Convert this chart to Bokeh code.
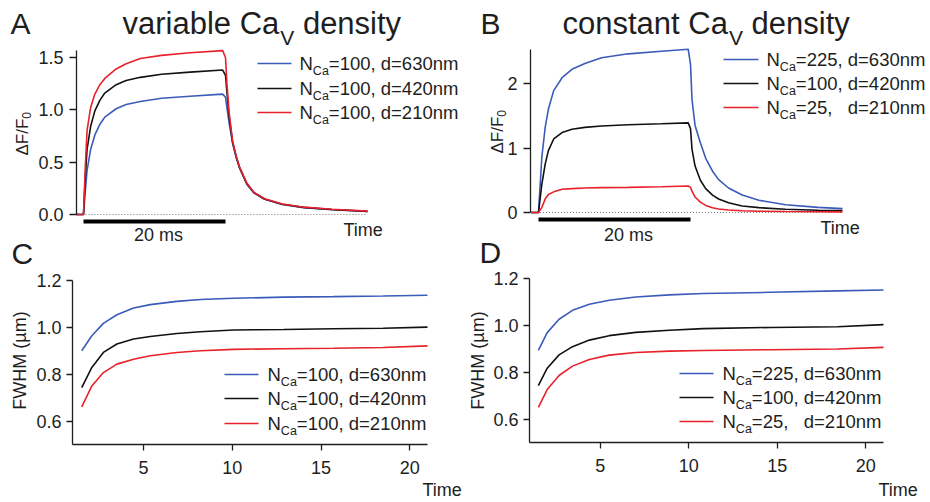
import math
from bokeh.plotting import figure
from bokeh.models import Range1d, FixedTicker, Label, LinearAxis
from bokeh.layouts import column, row
from bokeh.embed import file_html
from bokeh.resources import INLINE

# ---------------- data ----------------
# Panel A: variable Ca_V density (dF/F0 vs time in ms)
a_time = [-1, 0, 0.25, 0.5, 1.0, 1.6, 2.3, 3.0, 4.6, 6.0, 8.0, 11.0, 15.0, 19.6,
          20.0, 20.2, 20.5, 21.0, 21.5, 22.0, 23.0, 24.0, 25.5, 28.0, 31.0, 35.0, 40.0]
a_630 = [0, 0, 0.22, 0.42, 0.62, 0.76, 0.86, 0.93, 1.01, 1.05, 1.08, 1.11, 1.13, 1.15,
         1.12, 1.02, 0.88, 0.68, 0.545, 0.44, 0.29, 0.205, 0.145, 0.095, 0.066, 0.046, 0.028]
a_420 = [0, 0, 0.35, 0.62, 0.84, 0.99, 1.09, 1.16, 1.24, 1.28, 1.31, 1.34, 1.36, 1.38,
         1.33, 1.17, 0.94, 0.69, 0.555, 0.445, 0.295, 0.21, 0.148, 0.098, 0.068, 0.048, 0.030]
a_210 = [0, 0, 0.45, 0.80, 1.02, 1.15, 1.24, 1.30, 1.39, 1.44, 1.49, 1.52, 1.545, 1.565,
         1.50, 1.25, 0.98, 0.70, 0.56, 0.45, 0.30, 0.21, 0.15, 0.10, 0.07, 0.05, 0.032]

# Panel B: constant Ca_V density
b_time = [-1, 0, 0.44, 0.88, 1.3, 2.0, 3.1, 4.4, 6.1, 8.3, 11.8, 16.2, 19.7,
          20.0, 20.2, 20.6, 21.3, 22.0, 22.9, 23.7, 25.0, 26.8, 29.0, 32.5, 36.8, 40.0]
b_630 = [0, 0, 0.86, 1.32, 1.60, 1.89, 2.09, 2.22, 2.31, 2.40, 2.46, 2.50, 2.53,
         2.30, 1.75, 1.35, 1.08, 0.84, 0.64, 0.51, 0.38, 0.27, 0.19, 0.12, 0.08, 0.06]
b_420 = [0, 0, 0.44, 0.75, 0.96, 1.14, 1.24, 1.29, 1.32, 1.34, 1.36, 1.375, 1.39,
         1.30, 0.98, 0.72, 0.50, 0.37, 0.27, 0.21, 0.15, 0.10, 0.075, 0.05, 0.035, 0.03]
b_210 = [0, 0, 0.08, 0.21, 0.28, 0.32, 0.36, 0.37, 0.38, 0.385, 0.39, 0.40, 0.41,
         0.39, 0.33, 0.24, 0.16, 0.11, 0.075, 0.055, 0.038, 0.027, 0.02, 0.015, 0.012, 0.01]

zero_time = [-1, 40]
zero_val = [0, 0]
scale_bar_ms = [0, 20]

# Panel C: FWHM (um) vs time, variable density
c_time = [1.52, 2.09, 2.74, 3.5, 4.44, 5.38, 6.88, 8.2, 10.07, 12.9, 15.7, 18.5, 21.0]
c_630 = [0.90, 0.964, 1.017, 1.054, 1.083, 1.097, 1.111, 1.119, 1.124, 1.129, 1.131, 1.134, 1.137]
c_420 = [0.743, 0.829, 0.893, 0.929, 0.95, 0.961, 0.974, 0.981, 0.989, 0.991, 0.994, 0.996, 1.001]
c_210 = [0.661, 0.75, 0.807, 0.843, 0.864, 0.879, 0.893, 0.90, 0.906, 0.909, 0.911, 0.914, 0.921]

# Panel D: FWHM (um) vs time, constant density
d_time = [1.5, 2.0, 2.67, 3.43, 4.38, 5.5, 7.0, 8.9, 10.8, 14.6, 18.4, 21.0]
d_630 = [0.893, 0.969, 1.026, 1.064, 1.09, 1.107, 1.121, 1.13, 1.136, 1.141, 1.147, 1.151]
d_420 = [0.743, 0.817, 0.874, 0.909, 0.937, 0.956, 0.97, 0.979, 0.986, 0.991, 0.994, 1.003]
d_210 = [0.65, 0.726, 0.786, 0.826, 0.854, 0.873, 0.884, 0.89, 0.893, 0.896, 0.899, 0.906]

# ticks
a_yticks = [0, 0.5, 1.0, 1.5]
a_ylabels = ["0.0", "0.5", "1.0", "1.5"]
b_yticks = [0, 1, 2]
b_ylabels = ["0", "1", "2"]
fw_yticks = [0.6, 0.8, 1.0, 1.2]
fw_ylabels = ["0.6", "0.8", "1.0", "1.2"]
fw_xticks = [5, 10, 15, 20]
fw_xlabels = ["5", "10", "15", "20"]

# legend entries
var_n = ["100", "100", "100"]
const_n = ["225", "100", "25"]
dist = ["630", "420", "210"]

# ---------------- style ----------------
BLUE = "#3a5bb8"
BLACK = "#111111"
RED = "#e8212b"
COLORS = [BLUE, BLACK, RED]
INK = "#1e1e1e"
FONT = "Liberation Sans"
BASE_K = 0.32  # compensation: rendered alphabetic baseline sits ~0.32em low

WID = {' ': 278, ',': 278, '.': 278, '/': 278, '=': 584, '(': 333, ')': 333,
       'Δ': 668, 'a': 556, 'b': 556, 'c': 500, 'd': 556, 'e': 556, 'i': 222,
       'l': 222, 'm': 833, 'n': 556, 'o': 556, 'r': 333, 's': 500, 't': 278,
       'v': 500, 'y': 500, 'C': 722, 'F': 611, 'N': 722, 'V': 667}


def tw(s, size):
    return sum(WID.get(ch, 556) for ch in s) / 1000.0 * size


class Geo:
    """Figure box in page pixels; linear map page-px -> data from two anchors per axis."""

    def __init__(self, fig_x, fig_y, w, h, xpx, xval, ypx, yval):
        self.fig_x, self.fig_y, self.w, self.h = fig_x, fig_y, w, h
        self.xpx, self.xval, self.ypx, self.yval = xpx, xval, ypx, yval
        self.xr = (self.dx(fig_x), self.dx(fig_x + w))
        self.yr = (self.dy(fig_y + h), self.dy(fig_y))

    def dx(self, px):
        (p0, p1), (v0, v1) = self.xpx, self.xval
        return v0 + (px - p0) / (p1 - p0) * (v1 - v0)

    def dy(self, py):
        (p0, p1), (v0, v1) = self.ypx, self.yval
        return v0 + (py - p0) / (p1 - p0) * (v1 - v0)


def make_fig(g):
    p = figure(width=g.w, height=g.h,
               x_range=Range1d(*g.xr), y_range=Range1d(*g.yr),
               output_backend="svg", toolbar_location=None,
               x_axis_type=None, y_axis_type=None,
               min_border_left=0, min_border_right=0,
               min_border_top=0, min_border_bottom=0)
    p.outline_line_color = None
    p.background_fill_color = "white"
    p.border_fill_color = "white"
    return p


def add_axis(p, side, loc, bounds, ticks, labels, tick_out, standoff):
    ax = LinearAxis(fixed_location=loc, bounds=bounds)
    ax.ticker = FixedTicker(ticks=ticks)
    ax.major_label_overrides = {t: l for t, l in zip(ticks, labels)}
    ax.axis_line_color = INK
    ax.axis_line_width = 1.3
    ax.major_tick_line_color = INK
    ax.major_tick_line_width = 1.3
    ax.major_tick_in = 0
    ax.major_tick_out = tick_out
    ax.minor_tick_line_color = None
    ax.major_label_standoff = standoff
    ax.major_label_text_font = FONT
    ax.major_label_text_font_size = "18px"
    ax.major_label_text_color = INK
    p.add_layout(ax, side)


def txt(p, g, px, py, s, size, align="left", angle=0.0):
    px = px - BASE_K * size * math.sin(angle)
    py = py - BASE_K * size * math.cos(angle)
    p.add_layout(Label(x=g.dx(px), y=g.dy(py), text=s, text_font=FONT,
                       text_font_size=f"{size}px", text_align=align,
                       text_baseline="alphabetic", angle=angle, text_color=INK))


def title(p, g, x0, base, word):
    main = word + " Ca"
    txt(p, g, x0, base, main, 31)
    x = x0 + tw(main, 31) + 1
    txt(p, g, x, base + 11, "V", 21)
    x += tw("V", 21) + tw(" ", 31)
    txt(p, g, x, base, "density", 31)


def legend(p, g, lx0, lx1, nx, ys, ns, ds):
    for y, c, n, d in zip(ys, COLORS, ns, ds):
        p.line([g.dx(lx0), g.dx(lx1)], [g.dy(y), g.dy(y)], line_color=c, line_width=1.6)
        b = y + 6
        txt(p, g, nx, b, "N", 18.5)
        x = nx + tw("N", 18.5)
        txt(p, g, x, b + 5, "Ca", 12.5)
        x += tw("Ca", 12.5)
        txt(p, g, x, b, "=" + n + ",", 18.5)
        xd = x + tw("=100, ", 18.5)
        txt(p, g, xd, b, "d=" + d + "nm", 18.5)


def rot_label_sub(p, g, bx, y0, main, sub, size):
    txt(p, g, bx, y0, main, size, angle=math.pi / 2)
    txt(p, g, bx + 3, y0 - tw(main, size), sub, 12, angle=math.pi / 2)


LEFT_TOP_H = 270    # split between A and C (left column)
RIGHT_TOP_H = 268   # split between B and D (right column)

# ---------------- Panel A (also carries the "C" letter) ----------------
ga = Geo(0, 0, 470, LEFT_TOP_H, (83, 225), (0, 20), (214, 109.3), (0, 1))
pA = make_fig(ga)
add_axis(pA, "left", ga.dx(76), (0, 1.57), a_yticks, a_ylabels, 7, 6)
pA.line(zero_time, zero_val, line_color="#777777", line_width=1, line_dash="1 2")
pA.line(scale_bar_ms, [ga.dy(221)] * 2, line_color="black", line_width=4)
for ys, c in zip([a_630, a_420, a_210], COLORS):
    pA.line(a_time, ys, line_color=c, line_width=1.6)
txt(pA, ga, 10, 33, "A", 30)
title(pA, ga, 122, 33, "variable")
legend(pA, ga, 257, 291, 299, [63, 88, 112], var_n, dist)
rot_label_sub(pA, ga, 27, 155, "ΔF/F", "0", 17)
txt(pA, ga, 158, 240.5, "20 ms", 18, align="center")
txt(pA, ga, 343, 235, "Time", 18)
txt(pA, ga, 11, 263, "C", 30)

# ---------------- Panel B (also carries the "D" letter) ----------------
gb = Geo(470, 0, 460, RIGHT_TOP_H, (538, 690), (0, 20), (212, 147.5), (0, 1))
pB = make_fig(gb)
add_axis(pB, "left", gb.dx(530), (0, 2.53), b_yticks, b_ylabels, 7, 6)
pB.line(zero_time, zero_val, line_color="#777777", line_width=1, line_dash="1 2")
pB.line(scale_bar_ms, [gb.dy(219)] * 2, line_color="black", line_width=4)
for ys, c in zip([b_630, b_420, b_210], COLORS):
    pB.line(b_time, ys, line_color=c, line_width=1.6)
txt(pB, gb, 480, 33, "B", 30)
title(pB, gb, 562, 33, "constant")
legend(pB, gb, 723, 758, 766, [59, 83, 107], const_n, dist)
rot_label_sub(pB, gb, 502, 153, "ΔF/F", "0", 17)
txt(pB, gb, 628, 240.5, "20 ms", 18, align="center")
txt(pB, gb, 820, 233, "Time", 18)
txt(pB, gb, 479, 261.5, "D", 30)

# ---------------- Panel C ----------------
gc = Geo(0, LEFT_TOP_H, 470, 502 - LEFT_TOP_H, (72, 427), (1, 21), (444, 280), (0.5, 1.2))
pC = make_fig(gc)
add_axis(pC, "left", 1, (0.5, 1.2), fw_yticks, fw_ylabels, 6, 5)
add_axis(pC, "below", 0.5, (1, 21), fw_xticks, fw_xlabels, 6, 10)
for ys, c in zip([c_630, c_420, c_210], COLORS):
    pC.line(c_time, ys, line_color=c, line_width=1.6)
legend(pC, gc, 224, 258, 267, [374, 398, 423], var_n, dist)
txt(pC, gc, 25, 360, "FWHM (µm)", 18, align="center", angle=math.pi / 2)
txt(pC, gc, 422, 495, "Time", 18)

# ---------------- Panel D ----------------
gd = Geo(470, RIGHT_TOP_H, 460, 502 - RIGHT_TOP_H, (529, 883), (1, 21), (442, 278), (0.5, 1.2))
pD = make_fig(gd)
add_axis(pD, "left", 1, (0.5, 1.2), fw_yticks, fw_ylabels, 6, 5)
add_axis(pD, "below", 0.5, (1, 21), fw_xticks, fw_xlabels, 6, 10)
for ys, c in zip([d_630, d_420, d_210], COLORS):
    pD.line(d_time, ys, line_color=c, line_width=1.6)
legend(pD, gd, 679, 713, 722, [373, 397, 421], const_n, dist)
txt(pD, gd, 483, 360, "FWHM (µm)", 18, align="center", angle=math.pi / 2)
txt(pD, gd, 878, 495, "Time", 18)

layout = row(column(pA, pC), column(pB, pD))
open("out.html", "w").write(file_html(layout, INLINE))
